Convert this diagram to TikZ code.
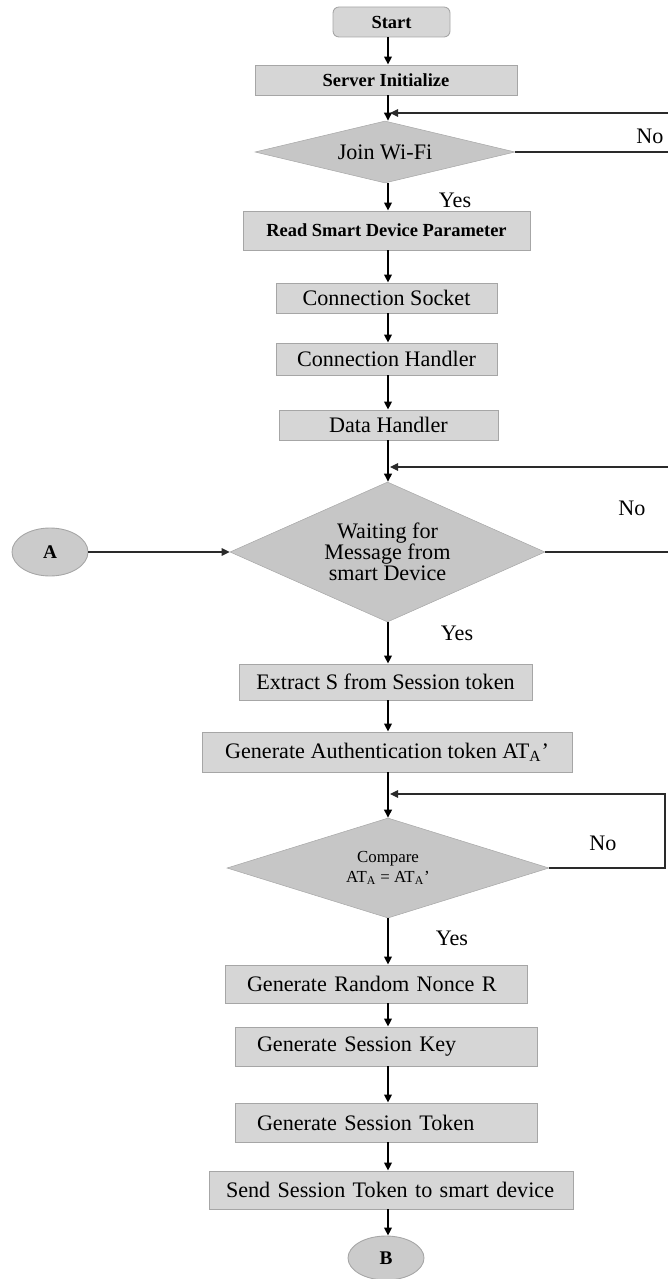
\documentclass[tikz,border=0pt]{standalone}
\usepackage{fontspec}
\setmainfont{Liberation Serif}
\usepackage{tikz}
\usetikzlibrary{positioning,shapes.geometric,arrows.meta}
\definecolor{boxgray}{HTML}{D6D6D6}
\definecolor{boxedge}{HTML}{A6A6A6}
\definecolor{decgray}{HTML}{C6C6C6}
\definecolor{loopgray}{HTML}{2A2A2A}

\begin{document}
\begin{tikzpicture}[
    x=0.2mm, y=-0.2mm,
    proc/.style={
        draw=boxedge, fill=boxgray, line width=0.5pt,
        inner sep=0pt, align=center,
        font=\fontsize{12.6}{14}\selectfont
    },
    topproc/.style={proc, font=\fontsize{10.5}{12}\selectfont\bfseries},
    lproc/.style={proc, align=left, inner xsep=4.4mm, inner ysep=0pt},
    decision/.style={
        diamond, fill=decgray, draw=decgray!85!black, line width=0.3pt,
        inner sep=0pt, align=center,
        font=\fontsize{12.6}{11.8}\selectfont
    },
    connector/.style={
        ellipse, draw=boxedge, fill=boxgray!95!black, line width=0.5pt,
        minimum width=15.2mm, font=\fontsize{11}{12}\selectfont\bfseries
    },
    lbl/.style={font=\fontsize{12.6}{14}\selectfont},
    arr/.style={-{Triangle[length=1.6mm,width=1.5mm]}, line width=1.1pt},
    looparr/.style={-{Triangle[length=1.6mm,width=1.5mm]}, line width=0.6pt, color=loopgray}
]
    \useasboundingbox (0,0) rectangle (668,1279);
    \coordinate (spine) at (388,0);

    % top part
    \node[topproc, rounded corners=1.2mm, minimum width=23.4mm, minimum height=6mm] (start) at (391.5,22) {Start};
    \node[topproc, minimum width=52.4mm, minimum height=6mm] (init) at (386,80) {Server Initialize};
    \node[decision, shape aspect=4.2, minimum width=52mm, minimum height=12.4mm] (wifi) at (385,152) {Join Wi-Fi};
    \node[topproc, minimum width=57.4mm, minimum height=7.8mm] (read) at (386.5,230.5) {Read Smart Device Parameter};
    \node[proc, minimum width=44.2mm, minimum height=6mm] (socket) at (386.5,298) {Connection Socket};
    \node[proc, minimum width=44.2mm, minimum height=6.4mm] (handler) at (386.5,359) {Connection Handler};
    \node[proc, minimum width=43.8mm, minimum height=6mm] (data) at (388.5,425) {Data Handler};

    % message wait
    \node[decision, shape aspect=2.25, minimum width=63mm, minimum height=28mm] (wait) at (387.5,552)
        {Waiting for\\Message from\\smart Device};
    \node[connector, minimum height=9.6mm] (A) at (50,552) {A};

    % token check
    \node[proc, minimum width=58.6mm, minimum height=7.2mm] (extract) at (385.5,682) {Extract S from Session token};
    \node[proc, minimum width=74mm, minimum height=8mm] (auth) at (387,752)
        {Generate Authentication token AT\textsubscript{A}'};
    \node[decision, shape aspect=3.2, minimum width=64.4mm, minimum height=20mm,
        font=\fontsize{9.6}{11.4}\selectfont] (compare) at (388,868)
        {Compare\\AT\textsubscript{A} = AT\textsubscript{A}'};

    % session
    \node[lproc, text width=51.6mm, minimum height=7.6mm] (nonce) at (376,984) {Generate Random Nonce R};
    \node[lproc, text width=51.6mm, minimum height=7.8mm] (key) at (386,1046.5) {Generate Session Key};
    \node[lproc, text width=51.6mm, minimum height=7.8mm] (token) at (386,1122.5) {Generate Session Token};
    \node[lproc, inner xsep=3.4mm, text width=66mm, minimum height=7.6mm] (send) at (391,1190)
        {Send Session Token to smart device};
    \node[connector, minimum height=8.8mm] (B) at (386,1258) {B};

    % labels
    \node[lbl] (yes1) at (455,200) {Yes};
    \node[lbl] (no1) at (650,136) {No};
    \node[lbl] (yes2) at (457,633) {Yes};
    \node[lbl] (no2) at (632,508) {No};
    \node[lbl] (yes3) at (452,938) {Yes};
    \node[lbl] (no3) at (603,843) {No};

    % main flow
    \draw[arr] (start.south -| spine) -- (init.north -| spine);
    \draw[arr] (init.south -| spine) -- (wifi.north -| spine);
    \draw[arr] (wifi.south -| spine) -- (read.north -| spine);
    \draw[arr] (read.south -| spine) -- (socket.north -| spine);
    \draw[arr] (socket.south -| spine) -- (handler.north -| spine);
    \draw[arr] (handler.south -| spine) -- (data.north -| spine);
    \draw[arr] (data.south -| spine) -- (wait.north -| spine);
    \draw[arr] (wait.south -| spine) -- (extract.north -| spine);
    \draw[arr] (extract.south -| spine) -- (auth.north -| spine);
    \draw[arr] (auth.south -| spine) -- (compare.north -| spine);
    \draw[arr] (compare.south -| spine) -- (nonce.north -| spine);
    \draw[arr] (nonce.south -| spine) -- (key.north -| spine);
    \draw[arr] (key.south -| spine) -- (token.north -| spine);
    \draw[arr] (token.south -| spine) -- (send.north -| spine);
    \draw[arr] (send.south -| spine) -- (B.north -| spine);
    \draw[looparr] (A) -- (wait.west);

    % no loops
    \coordinate (wifiturn) at (672,113);
    \coordinate (wifiback) at (390,113);
    \draw[looparr] (wifi.east) -| (wifiturn) -- (wifiback);
    \coordinate (waitturn) at (672,467);
    \coordinate (waitback) at (390,467);
    \draw[looparr] (wait.east) -| (waitturn) -- (waitback);
    \coordinate (cmpturn) at (665,794);
    \coordinate (cmpback) at (390,794);
    \draw[looparr] (compare.east) -| (cmpturn) -- (cmpback);
\end{tikzpicture}
\end{document}
